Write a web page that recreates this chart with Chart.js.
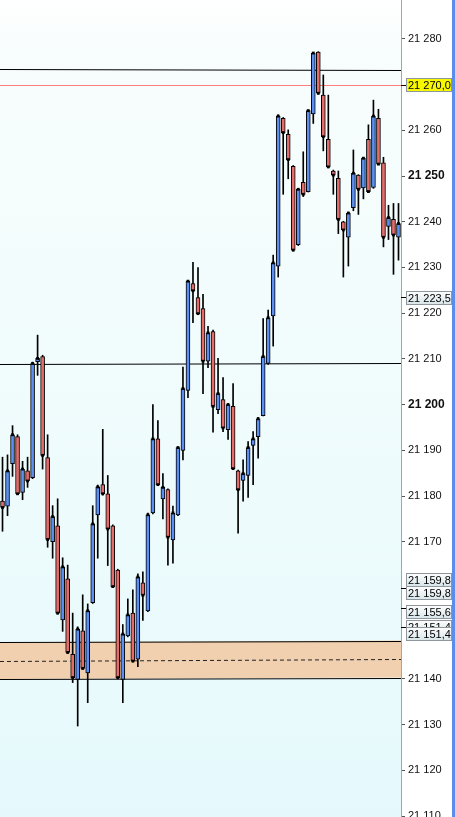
<!DOCTYPE html>
<html>
<head>
<meta charset="utf-8">
<script src="https://cdn.jsdelivr.net/npm/chart.js@4.4.0/dist/chart.umd.min.js"></script>
<style>
  html, body { margin: 0; padding: 0; background: #fff; }
  #wrap { width: 452px; height: 817px; border-right: 3px solid #5b8def; }
  canvas { display: block; }
</style>
</head>
<body>
<div id="wrap"><canvas id="chart" width="452" height="817"></canvas></div>
<script>
// bar numbers (no time axis shown on the picture)
const bars = Array.from({ length: 80 }, (_, i) => String(i + 1));

const opens = [
  21178.9, 21177.8, 21187.1, 21193.0, 21180.8, 21185.5, 21184.0, 21209.4, 21210.5, 21188.4,
  21170.0, 21173.5, 21152.9, 21161.9, 21145.4, 21139.9, 21150.5, 21141.3, 21156.7, 21175.9,
  21182.5, 21180.5, 21173.5, 21163.8, 21139.9, 21149.4, 21154.4, 21144.3, 21161.0, 21154.9,
  21176.3, 21192.5, 21179.4, 21181.4, 21170.4, 21175.9, 21190.0, 21203.1, 21226.5, 21223.4,
  21221.0, 21209.5, 21216.0, 21198.9, 21201.1, 21194.5, 21199.6, 21185.5, 21183.4, 21184.5,
  21191.1, 21193.0, 21197.6, 21209.0, 21219.4, 21230.3, 21262.6, 21259.1, 21252.1, 21235.0,
  21248.6, 21246.6, 21263.6, 21277.1, 21267.7, 21258.0, 21251.1, 21249.5, 21240.0, 21236.6,
  21243.1, 21250.2, 21247.4, 21258.0, 21247.5, 21262.6, 21252.9, 21239.0, 21240.5, 21236.6
];
const highs = [
  21188.5, 21189.0, 21195.4, 21193.4, 21187.6, 21188.5, 21209.3, 21215.2, 21210.8, 21193.4,
  21177.9, 21179.4, 21166.5, 21164.9, 21154.4, 21151.4, 21158.4, 21156.4, 21177.9, 21182.4,
  21194.6, 21184.5, 21173.7, 21164.0, 21151.9, 21157.5, 21159.5, 21163.0, 21163.4, 21176.3,
  21200.0, 21196.5, 21184.9, 21181.6, 21177.8, 21190.7, 21208.2, 21227.2, 21231.1, 21230.0,
  21224.1, 21217.1, 21216.3, 21210.1, 21205.9, 21200.3, 21204.6, 21185.7, 21187.9, 21191.9,
  21194.1, 21197.2, 21218.8, 21220.7, 21232.7, 21263.4, 21262.8, 21260.1, 21252.3, 21247.3,
  21255.3, 21264.4, 21277.0, 21277.2, 21272.1, 21267.7, 21251.3, 21251.1, 21240.1, 21242.1,
  21255.7, 21250.3, 21254.0, 21261.2, 21266.6, 21264.6, 21254.1, 21243.6, 21244.0, 21244.0
];
const lows = [
  21172.3, 21175.7, 21184.3, 21180.3, 21179.2, 21181.9, 21183.8, 21206.4, 21185.9, 21168.8,
  21166.4, 21154.2, 21150.4, 21145.6, 21139.2, 21129.7, 21142.1, 21134.8, 21156.5, 21166.4,
  21180.2, 21164.8, 21160.0, 21140.0, 21134.8, 21149.2, 21143.7, 21142.7, 21152.8, 21154.7,
  21176.1, 21182.3, 21175.0, 21164.9, 21165.3, 21175.7, 21187.9, 21201.5, 21217.9, 21219.7,
  21202.4, 21208.1, 21194.0, 21198.0, 21194.1, 21192.4, 21185.8, 21171.9, 21178.9, 21179.7,
  21182.5, 21188.3, 21197.5, 21208.8, 21212.8, 21227.9, 21246.0, 21249.4, 21233.6, 21234.8,
  21245.5, 21246.5, 21261.5, 21267.9, 21255.5, 21251.8, 21246.0, 21237.4, 21227.9, 21230.3,
  21242.4, 21241.6, 21245.0, 21246.5, 21247.3, 21252.5, 21234.5, 21236.1, 21228.5, 21231.6
];
const closes = [
  21177.5, 21185.5, 21193.4, 21180.5, 21185.9, 21183.3, 21209.0, 21210.1, 21188.9, 21170.5,
  21175.5, 21154.4, 21164.5, 21145.8, 21140.3, 21150.9, 21142.3, 21154.9, 21173.9, 21182.0,
  21180.5, 21172.8, 21160.2, 21140.3, 21149.8, 21154.0, 21143.9, 21162.3, 21158.3, 21175.9,
  21192.5, 21182.5, 21181.9, 21171.0, 21176.3, 21190.6, 21203.5, 21227.0, 21224.9, 21219.9,
  21209.5, 21215.7, 21199.6, 21202.4, 21194.9, 21200.0, 21186.0, 21181.4, 21184.9, 21190.6,
  21192.5, 21196.9, 21210.5, 21219.0, 21231.0, 21263.1, 21259.5, 21253.6, 21233.8, 21247.1,
  21246.0, 21264.3, 21276.9, 21268.1, 21258.6, 21252.0, 21250.2, 21240.5, 21238.2, 21241.9,
  21250.6, 21247.1, 21253.9, 21246.6, 21263.1, 21252.6, 21236.6, 21240.9, 21237.1, 21239.6
];

// price axis labels (21 150 / 21 160 / 21 270 are hidden under the tags)
const tickValues = [21110, 21120, 21130, 21140, 21170, 21180, 21190, 21200,
  21210, 21220, 21230, 21240, 21250, 21260, 21280];

// horizontal levels: [left end, right end]
const resistance = [21273.3, 21273.1];
const support = [21208.9, 21209.2];
const zoneTop = [21148.0, 21148.4];
const zoneMid = [21143.9, 21144.4];
const zoneBottom = [21140.0, 21140.3];
const lastPrice = 21270.0;
const priceTags = [21223.5, 21159.8, 21159.8, 21155.6, 21151.4, 21151.4];

const UP = '#5b8ff2';
const DOWN = '#e46d6c';
const FONT = 'Liberation Sans, Arial, sans-serif';

function fmt(v, dec) {
  const s = dec ? v.toFixed(dec).replace('.', ',') : String(v);
  return s.replace(/\B(?=(\d{3})+(?!\d))/g, ' ');
}

function noPad(scale) {
  scale.paddingTop = 0;
  scale.paddingBottom = 0;
  scale.paddingLeft = 0;
  scale.paddingRight = 0;
}

const overlay = {
  id: 'overlay',
  beforeDraw(chart) {
    const { ctx, chartArea: a } = chart;
    const g = ctx.createLinearGradient(0, a.top, 0, a.bottom);
    g.addColorStop(0, '#ffffff');
    g.addColorStop(0.06, '#f8fdfd');
    g.addColorStop(0.5, '#f0fcfc');
    g.addColorStop(1, '#e5f9fc');
    ctx.save();
    ctx.fillStyle = g;
    ctx.fillRect(a.left, a.top, a.right - a.left, a.bottom - a.top);
    ctx.restore();
  },
  beforeDatasetsDraw(chart) {
    const { ctx, chartArea: a, scales: { y } } = chart;
    const py = v => y.getPixelForValue(v);
    const line = (pair, color, dash) => {
      ctx.save();
      ctx.strokeStyle = color;
      ctx.lineWidth = 1;
      ctx.setLineDash(dash || []);
      ctx.beginPath();
      ctx.moveTo(a.left, Math.round(py(pair[0])) + 0.5);
      ctx.lineTo(a.right, Math.round(py(pair[1])) + 0.5);
      ctx.stroke();
      ctx.restore();
    };
    // support / resistance zone
    ctx.save();
    ctx.fillStyle = '#f1d0b0';
    ctx.beginPath();
    ctx.moveTo(a.left, py(zoneTop[0]));
    ctx.lineTo(a.right, py(zoneTop[1]));
    ctx.lineTo(a.right, py(zoneBottom[1]));
    ctx.lineTo(a.left, py(zoneBottom[0]));
    ctx.closePath();
    ctx.fill();
    ctx.restore();
    line(zoneTop, '#000');
    line(zoneBottom, '#000');
    line(zoneMid, '#222', [4, 3]);
    line(resistance, '#000');
    line(support, '#000');
    line([lastPrice, lastPrice], '#ff7f7f');
  },
  afterDraw(chart) {
    const { ctx, chartArea: a, scales: { y } } = chart;
    const shifts = [1, -8, 4.6, 4, 0, 7.5];
    const tag = (v, dy, fill) => {
      const yc = y.getPixelForValue(v);
      ctx.save();
      ctx.strokeStyle = '#000';
      ctx.beginPath();
      ctx.moveTo(a.right, Math.round(yc) + 0.5);
      ctx.lineTo(a.right + 5, Math.round(yc) + 0.5);
      ctx.stroke();
      const top = Math.round(yc + dy - 7);
      let bg = fill;
      if (!bg) {
        bg = ctx.createLinearGradient(0, top, 0, top + 14);
        bg.addColorStop(0, '#ffffff');
        bg.addColorStop(1, '#d6e4e8');
      }
      ctx.fillStyle = bg;
      ctx.fillRect(a.right + 5, top, 46, 14);
      ctx.strokeStyle = '#8e979e';
      ctx.strokeRect(a.right + 5.5, top + 0.5, 45, 13);
      ctx.fillStyle = '#000';
      ctx.font = '11px ' + FONT;
      ctx.textBaseline = 'middle';
      ctx.fillText(fmt(v, 1), a.right + 7, top + 7.5);
      ctx.restore();
    };
    priceTags.forEach((v, i) => tag(v, shifts[i]));
    tag(lastPrice, 0, '#f7f700');
  }
};

new Chart(document.getElementById('chart'), {
  type: 'bar',
  data: {
    labels: bars,
    datasets: [
      {
        type: 'line',
        data: closes,
        showLine: false,
        pointStyle: 'rect',
        pointRadius: 2,
        pointHoverRadius: 2,
        pointBackgroundColor: '#000',
        pointBorderWidth: 0,
        clip: false,
        order: 0
      },
      {
        data: opens.map((o, i) => [o, closes[i]]),
        backgroundColor: opens.map((o, i) => closes[i] >= o ? UP : DOWN),
        borderColor: '#000',
        borderWidth: 1,
        borderSkipped: false,
        barThickness: 4,
        minBarLength: 2,
        grouped: false,
        order: 1
      },
      {
        data: lows.map((l, i) => [l, highs[i]]),
        backgroundColor: '#000',
        borderWidth: 0,
        barThickness: 1,
        grouped: false,
        order: 2
      }
    ]
  },
  options: {
    responsive: false,
    animation: false,
    devicePixelRatio: 1,
    layout: { padding: 0, autoPadding: false },
    plugins: { legend: { display: false }, tooltip: { enabled: false } },
    scales: {
      x: { display: false, offset: true, afterFit: noPad },
      y: {
        position: 'right',
        min: 21109.8,
        max: 21288.5,
        afterBuildTicks: scale => { scale.ticks = tickValues.map(v => ({ value: v })); },
        afterFit: scale => { scale.width = 51; noPad(scale); },
        grid: { drawOnChartArea: false, drawTicks: true, tickLength: 4, tickColor: '#555' },
        border: { display: true, color: '#9ea6ae' },
        ticks: {
          padding: 3,
          color: '#111',
          font: c => (c.tick && c.tick.value % 50 === 0)
            ? { family: FONT, size: 12, weight: 'bold' }
            : { family: FONT, size: 11 },
          callback: v => fmt(v)
        }
      }
    }
  },
  plugins: [overlay]
});
</script>
</body>
</html>
